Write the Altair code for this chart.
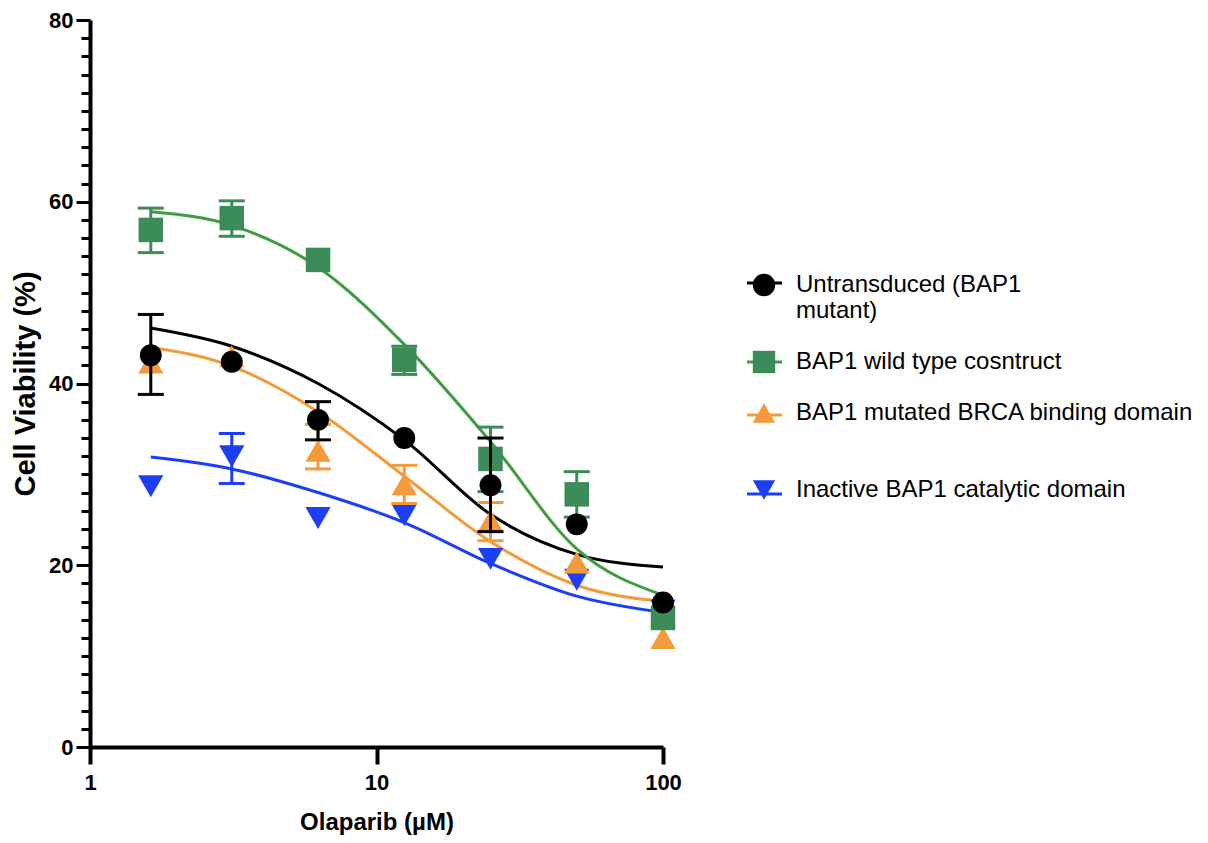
import altair as alt
import pandas as pd

# ---------------- data ----------------
doses = [1.63, 3.125, 6.25, 12.5, 25, 50, 100]
series = [
    "Untransduced (BAP1 mutant)",
    "BAP1 wild type cosntruct",
    "BAP1 mutated BRCA binding domain",
    "Inactive BAP1 catalytic domain",
]

black_mean = [43.1, 42.4, 36.0, 34.0, 28.8, 24.5, 15.9]
black_lo = [38.8, None, 33.8, None, 23.7, None, None]
black_hi = [47.6, None, 38.0, None, 34.0, None, None]
black_fit = [46.1, 44.1, 40.0, 33.8, 25.6, 21.2, 19.8]

green_mean = [56.9, 58.2, 53.6, 42.6, 31.7, 27.8, 14.2]
green_lo = [54.4, 56.2, None, 41.0, 28.1, 25.3, None]
green_hi = [59.3, 60.1, None, 44.1, 35.2, 30.3, None]
green_fit = [58.9, 57.4, 52.8, 44.3, 33.6, 21.8, 16.7]

orange_mean = [42.3, 43.0, 32.6, 28.9, 24.9, 20.3, 12.0]
orange_lo = [None, None, 30.6, 26.8, 22.7, None, None]
orange_hi = [None, None, 35.5, 31.0, 26.9, None, None]
orange_fit = [44.0, 41.9, 36.9, 29.8, 22.6, 17.8, 16.0]

blue_mean = [28.7, 32.0, 25.2, 25.5, 20.7, 18.4, 15.0]
blue_lo = [None, 29.0, None, None, None, None, None]
blue_hi = [None, 34.5, None, None, None, None, None]
blue_fit = [31.9, 30.6, 28.0, 24.7, 20.2, 16.6, 14.8]

x_ticks = [1, 10, 100]
y_ticks = [0, 2, 4, 6, 8, 10, 12, 14, 16, 18, 20, 22, 24, 26, 28, 30, 32, 34, 36, 38,
           40, 42, 44, 46, 48, 50, 52, 54, 56, 58, 60, 62, 64, 66, 68, 70, 72, 74, 76, 78, 80]

# ---------------- styles ----------------
marker_colors = ["#000000", "#3b8c58", "#f39b3a", "#1c3ff5"]
curve_colors = ["#000000", "#3f9c3f", "#f39b3a", "#1c3ff5"]
marker_shapes = ["circle", "square", "triangle-up", "triangle-down"]
marker_sizes = [480, 600, 640, 640]
FONT = "Liberation Sans"
LABEL_EXPR = ("datum.label == 'Untransduced (BAP1 mutant)' ? ['Untransduced (BAP1', 'mutant)'] : "
              "(datum.label == 'BAP1 mutated BRCA binding domain' ? ['BAP1 mutated BRCA binding domain', ''] : datum.label)")
# same number of lines as LABEL_EXPR, but blank (the stroke legend only supplies the short lines)
BLANK_EXPR = ("(datum.label == 'Untransduced (BAP1 mutant)' || datum.label == 'BAP1 mutated BRCA binding domain')"
              " ? [' ', ' '] : ' '")

rows = []
groups = [
    (series[0], black_mean, black_lo, black_hi, black_fit),
    (series[1], green_mean, green_lo, green_hi, green_fit),
    (series[2], orange_mean, orange_lo, orange_hi, orange_fit),
    (series[3], blue_mean, blue_lo, blue_hi, blue_fit),
]
for name, m, lo, hi, fit in groups:
    for i, d in enumerate(doses):
        rows.append({"series": name, "dose": d, "mean": m[i], "lo": lo[i], "hi": hi[i], "fit": fit[i]})
df = pd.DataFrame(rows)

x_axis = alt.Axis(
    values=x_ticks, title="Olaparib (µM)", grid=False, labelFlush=False,
    tickSize=17, tickWidth=4, tickColor="black", domainWidth=4, domainColor="black",
    labelFont=FONT, labelFontSize=22, labelFontWeight="bold", labelColor="black", labelPadding=8,
    titleFont=FONT, titleFontSize=24, titleFontWeight="bold", titleColor="black", titlePadding=17,
)
y_axis = alt.Axis(
    values=y_ticks, title="Cell Viability (%)", grid=False, labelFlush=False,
    labelExpr="datum.value % 20 === 0 ? datum.label : ''",
    tickSize={"condition": {"test": "datum.value % 20 === 0", "value": 14}, "value": 9},
    tickWidth=3, tickColor="black", domainWidth=4, domainColor="black",
    labelFont=FONT, labelFontSize=22, labelFontWeight="bold", labelColor="black", labelPadding=3,
    titleFont=FONT, titleFontSize=29, titleFontWeight="bold", titleColor="black", titlePadding=8,
)
x_scale = alt.Scale(type="log", domain=[1, 100])
y_scale = alt.Scale(domain=[0, 80])

marker_color_scale = alt.Scale(domain=series, range=marker_colors)
legend_shape_scale = alt.Scale(domain=series, range=marker_shapes)

base = alt.Chart(df)
X = alt.X("dose:Q", scale=x_scale, axis=x_axis)

# legend made of short horizontal strokes, laid out on the same rows as the marker legend
line_legend = alt.Legend(
    title=None, orient="none", legendX=655.5, legendY=244,
    symbolType="stroke", symbolSize=1225, symbolStrokeWidth=3,
    labelFont=FONT, labelFontSize=24, labelOpacity=0, labelLimit=600,
    labelOffset=14, rowPadding=22, padding=0, labelExpr=BLANK_EXPR,
)
curves = base.mark_line(strokeWidth=3, interpolate="monotone").encode(
    x=X,
    y=alt.Y("fit:Q", scale=y_scale, axis=y_axis),
    color=alt.Color("series:N", sort=series, scale=alt.Scale(range=curve_colors), legend=line_legend),
    detail="series:N",
)

layers = [curves]
for idx in [3, 2, 1, 0]:
    name = series[idx]
    colour = alt.value(marker_colors[idx])
    sub = base.transform_filter(alt.datum.series == name)
    rule = sub.mark_rule(strokeWidth=3).encode(
        x=X, y=alt.Y("lo:Q", scale=y_scale, axis=y_axis), y2="hi:Q", color=colour,
    )
    cap_lo = sub.mark_tick(orient="horizontal", size=26, thickness=3, opacity=1).encode(
        x=X, y=alt.Y("lo:Q", scale=y_scale, axis=y_axis), color=colour,
    )
    cap_hi = sub.mark_tick(orient="horizontal", size=26, thickness=3, opacity=1).encode(
        x=X, y=alt.Y("hi:Q", scale=y_scale, axis=y_axis), color=colour,
    )
    pts = sub.mark_point(filled=True, opacity=1, size=marker_sizes[idx], shape=marker_shapes[idx]).encode(
        x=X, y=alt.Y("mean:Q", scale=y_scale, axis=y_axis), color=colour,
    )
    layers += [rule, cap_lo, cap_hi, pts]

marker_legend = alt.Legend(
    title=None, orient="none", legendX=662, legendY=253,
    symbolSize=500, symbolStrokeWidth=0, symbolOpacity=1,
    labelFont=FONT, labelFontSize=24, labelColor="black", labelLimit=600,
    labelOffset=20, rowPadding=27, padding=0, labelExpr=LABEL_EXPR,
)
legend_layer = base.mark_point(opacity=0, filled=True).encode(
    x=X,
    y=alt.Y("mean:Q", scale=y_scale, axis=y_axis),
    fill=alt.Fill("series:N", scale=marker_color_scale, legend=marker_legend),
    shape=alt.Shape("series:N", scale=legend_shape_scale, legend=marker_legend),
)
layers.append(legend_layer)

chart = alt.layer(*layers).properties(
    width=573, height=727, background="white",
    autosize=alt.AutoSizeParams(type="none"),
    padding={"left": 90, "top": 20, "right": 545, "bottom": 96},
).configure_view(strokeWidth=0)

chart.save("out.html", embed_options={"renderer": "svg", "actions": False})
